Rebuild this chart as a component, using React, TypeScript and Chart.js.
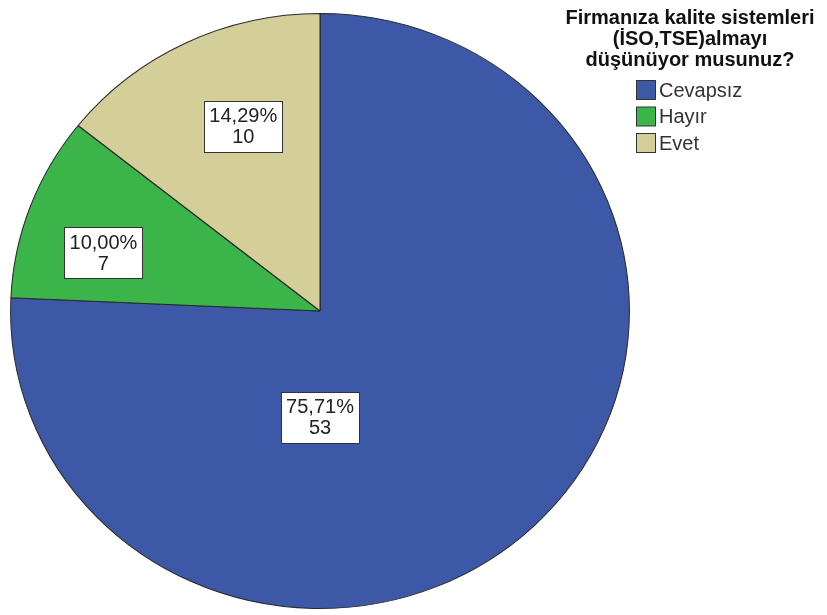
import React, { useEffect, useRef } from "react";
import { Chart, registerables } from "chart.js";

Chart.register(...registerables);

const categories = ["Cevapsız", "Hayır", "Evet"];
const counts = [53, 7, 10];
const percentLabels = ["75,71%", "10,00%", "14,29%"];
const legendTitle = ["Firmanıza kalite sistemleri", "(İSO,TSE)almayı", "düşünüyor musunuz?"];

const colors = ["#3E58A8", "#3BB44A", "#D4CE98"];
// label placement relative to pie center, as fraction of radius (style, not data)
const labelPlacement = [
  [0.0, 0.359],
  [-0.70, -0.195],
  [-0.248, -0.621],
];
const SCALE_X = 1.04;

const FONT = "'Liberation Sans', Arial, sans-serif";

const stretchPlugin = {
  id: "stretch",
  beforeDatasetsDraw(chart: any) {
    const meta = chart.getDatasetMeta(0);
    const a = meta.data[0];
    const ctx = chart.ctx;
    ctx.save();
    ctx.translate(a.x, a.y);
    ctx.scale(SCALE_X, 1);
    ctx.translate(-a.x, -a.y);
  },
  afterDatasetsDraw(chart: any) {
    const ctx = chart.ctx;
    ctx.restore();
    const meta = chart.getDatasetMeta(0);
    meta.data.forEach((arc: any, i: number) => {
      const r = arc.outerRadius;
      const cx = arc.x + labelPlacement[i][0] * r * SCALE_X;
      const cy = arc.y + labelPlacement[i][1] * r;
      const w = 78;
      const h = 51;
      ctx.save();
      ctx.fillStyle = "#ffffff";
      ctx.fillRect(Math.round(cx - w / 2) + 0.5, Math.round(cy - h / 2) + 0.5, w, h);
      ctx.strokeStyle = "#333333";
      ctx.lineWidth = 1;
      ctx.strokeRect(Math.round(cx - w / 2) + 0.5, Math.round(cy - h / 2) + 0.5, w, h);
      ctx.fillStyle = "#222222";
      ctx.font = `20px ${FONT}`;
      ctx.textAlign = "center";
      ctx.textBaseline = "middle";
      ctx.fillText(percentLabels[i], cx, cy - 10);
      ctx.fillText(String(counts[i]), cx, cy + 11);
      ctx.restore();
    });
  },
};

const legendPlugin = {
  id: "customLegend",
  afterDraw(chart: any) {
    const ctx = chart.ctx;
    ctx.save();
    ctx.fillStyle = "#111111";
    ctx.font = `bold 20px ${FONT}`;
    ctx.textAlign = "center";
    ctx.textBaseline = "middle";
    legendTitle.forEach((t, i) => ctx.fillText(t, 690, 18 + i * 21));
    ctx.font = `20px ${FONT}`;
    ctx.textAlign = "left";
    categories.forEach((c, i) => {
      const y = 80 + i * 26.5;
      ctx.fillStyle = colors[i];
      ctx.fillRect(636.5, y + 0.5, 19, 19);
      ctx.strokeStyle = "#333333";
      ctx.lineWidth = 1;
      ctx.strokeRect(636.5, y + 0.5, 19, 19);
      ctx.fillStyle = "#333333";
      ctx.fillText(c, 659, y + 11);
    });
    ctx.restore();
  },
};

export default function App() {
  const ref = useRef<HTMLCanvasElement>(null);
  useEffect(() => {
    if (!ref.current) return;
    const chart = new Chart(ref.current, {
      type: "pie",
      data: {
        labels: categories,
        datasets: [
          {
            data: counts,
            backgroundColor: colors,
            borderColor: "#2a2a2a",
            borderWidth: 1,
          },
        ],
      },
      options: {
        animation: false,
        responsive: false,
        layout: { padding: { left: 22, right: 209, top: 13, bottom: 6 } },
        plugins: {
          legend: { display: false },
          tooltip: { enabled: false },
        },
      },
      plugins: [stretchPlugin, legendPlugin],
    });
    return () => chart.destroy();
  }, []);
  return (
    <div style={{ position: "fixed", left: 0, top: 0, width: 827, height: 615, background: "#fff" }}>
      <canvas ref={ref} width={827} height={615} />
    </div>
  );
}
